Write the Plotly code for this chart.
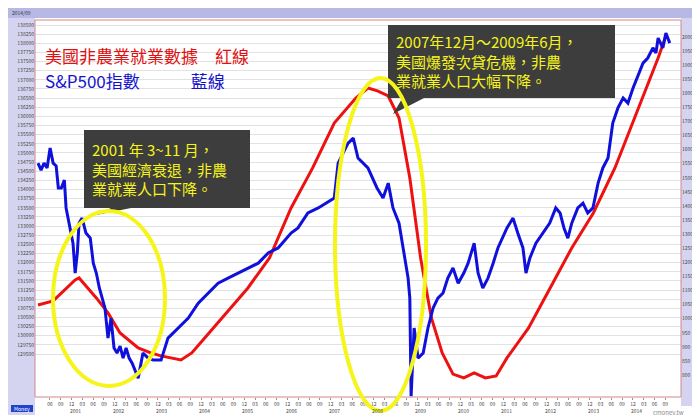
import plotly.graph_objects as go

# US non-farm payrolls (thousands), red line, left axis
nfp_t = [2000.14, 2000.49, 2001.0, 2001.09, 2001.49, 2001.76, 2002.04, 2002.46, 2002.75, 2002.99,
         2003.45, 2003.70, 2004.0, 2004.5, 2005.0, 2005.5, 2006.0, 2006.5, 2007.0, 2007.5,
         2007.78, 2008.0, 2008.25, 2008.5, 2008.75, 2009.0, 2009.25, 2009.5, 2009.75, 2010.0,
         2010.24, 2010.5, 2010.75, 2011.0, 2011.5, 2012.0, 2012.5, 2013.0, 2013.5, 2014.0,
         2014.5, 2014.68]
nfp_v = [130842, 130952, 131526, 131581, 131034, 130624, 130077, 129667, 129530, 129448,
         129339, 129530, 129940, 130624, 131307, 132128, 133496, 134590, 135820, 136504,
         136777, 136700, 136558, 135957, 134316, 132128, 130487, 129530, 128950, 128846,
         128983, 128846, 128900, 129393, 130213, 131307, 132401, 133359, 134590, 136093,
         137598, 138199]

# S&P 500 index, blue line, right axis
spx_t = [2000.14, 2000.21, 2000.28, 2000.35, 2000.42, 2000.49, 2000.56, 2000.61, 2000.68, 2000.75,
         2000.79, 2000.84, 2000.91, 2000.95, 2001.0, 2001.05, 2001.09, 2001.16, 2001.25, 2001.35,
         2001.42, 2001.49, 2001.56, 2001.63, 2001.69, 2001.76, 2001.83, 2001.90, 2001.97, 2002.04,
         2002.11, 2002.18, 2002.25, 2002.32, 2002.46, 2002.57, 2002.69, 2002.81, 2002.99, 2003.15,
         2003.38, 2003.62, 2003.85, 2004.08, 2004.31, 2004.54, 2004.77, 2005.0, 2005.24, 2005.47,
         2005.70, 2006.0, 2006.16, 2006.39, 2006.63, 2007.0, 2007.09, 2007.32, 2007.44, 2007.55,
         2007.67, 2007.78, 2007.99, 2008.13, 2008.25, 2008.36, 2008.50, 2008.59, 2008.71, 2008.75,
         2008.78, 2008.85, 2008.94, 2009.06, 2009.17, 2009.29, 2009.40, 2009.52, 2009.63, 2009.75,
         2009.87, 2010.0, 2010.10, 2010.24, 2010.33, 2010.44, 2010.56, 2010.68, 2010.79, 2011.0,
         2011.14, 2011.25, 2011.37, 2011.44, 2011.53, 2011.67, 2011.83, 2011.99, 2012.13, 2012.23,
         2012.32, 2012.41, 2012.50, 2012.64, 2012.76, 2012.87, 2012.99, 2013.11, 2013.22, 2013.34,
         2013.45, 2013.57, 2013.69, 2013.80, 2013.92, 2014.01, 2014.15, 2014.26, 2014.38, 2014.45,
         2014.50, 2014.61, 2014.68, 2014.77]
spx_v = [1552, 1527, 1552, 1535, 1606, 1552, 1542, 1464, 1464, 1492,
         1393, 1357, 1304, 1268, 1162, 1233, 1339, 1357, 1304, 1286,
         1197, 1162, 1109, 1073, 1038, 931, 1002, 896, 878, 903,
         860, 896, 860, 842, 789, 878, 860, 853, 853, 931,
         967, 1002, 1055, 1091, 1126, 1144, 1162, 1180, 1197, 1233,
         1251, 1304, 1322, 1375, 1393, 1428, 1552, 1623, 1641, 1570,
         1552, 1535, 1464, 1428, 1481, 1393, 1339, 1251, 1144, 1073,
         725, 967, 860, 878, 967, 1038, 1073, 1091, 1144, 1180,
         1126, 1162, 1197, 1268, 1162, 1109, 1144, 1197, 1251, 1322,
         1357, 1304, 1251, 1162, 1215, 1268, 1304, 1339, 1393, 1375,
         1322, 1286, 1339, 1393, 1410, 1375, 1393, 1481, 1535, 1570,
         1694, 1748, 1783, 1765, 1819, 1854, 1907, 1925, 1961, 1943,
         1996, 1961, 2014, 1978]

years = list(range(2001, 2015))
left_ticks = list(range(129500, 138501, 250))
right_ticks = list(range(800, 2001, 50))

tickvals, ticktext = [], []
for y in range(2000, 2015):
    for m in (3, 6, 9, 12):
        t = y + (m - 1) / 12
        if 2000.3 < t < 2014.8:
            tickvals.append(t)
            ticktext.append(f"{m:02d}")

fig = go.Figure()
fig.add_trace(go.Scatter(x=nfp_t, y=nfp_v, mode="lines", line=dict(color="#ee1111", width=3), yaxis="y"))
fig.add_trace(go.Scatter(x=spx_t, y=spx_v, mode="lines", line=dict(color="#1010dd", width=3), yaxis="y2"))

W, L, R, T, B = 646, 27, 27, 12, 26
H = 415 - T - B


def px(x):
    return (x - L) / W


def py(y):
    return (415 - B - y) / H


shapes = [
    dict(type="rect", xref="paper", yref="paper", x0=px(0), x1=px(27), y0=py(415), y1=py(0),
         fillcolor="#d4d4f0", line_width=0, layer="below"),
    dict(type="rect", xref="paper", yref="paper", x0=px(673), x1=px(700), y0=py(398), y1=py(0),
         fillcolor="#d4d4f0", line_width=0, layer="below"),
    dict(type="rect", xref="paper", yref="paper", x0=px(0), x1=px(700), y0=py(10), y1=py(0),
         fillcolor="#b8b8e6", line_width=0, layer="below"),
    dict(type="rect", xref="paper", yref="paper", x0=0, x1=1, y0=0, y1=1,
         line=dict(color="#d08888", width=1)),
    # callout boxes
    dict(type="rect", xref="paper", yref="paper", x0=px(76), x1=px(242), y0=py(200), y1=py(122),
         fillcolor="#3d3d3d", line_width=0),
    dict(type="path", xref="paper", yref="paper",
         path=f"M {px(105)} {py(199)} L {px(88)} {py(207)} L {px(128)} {py(199)} Z",
         fillcolor="#3d3d3d", line_width=0),
    dict(type="rect", xref="paper", yref="paper", x0=px(380), x1=px(607), y0=py(90), y1=py(17),
         fillcolor="#3d3d3d", line_width=0),
    dict(type="path", xref="paper", yref="paper",
         path=f"M {px(395)} {py(89)} L {px(385)} {py(106)} L {px(418)} {py(89)} Z",
         fillcolor="#3d3d3d", line_width=0),
    # ellipses
    dict(type="circle", xref="paper", yref="paper", x0=px(45), x1=px(157), y0=py(378), y1=py(203),
         line=dict(color="#f5f51a", width=4)),
    dict(type="circle", xref="paper", yref="paper", x0=px(327), x1=px(418), y0=py(403), y1=py(70),
         line=dict(color="#f5f51a", width=4)),
    dict(type="rect", xref="paper", yref="paper", x0=px(3), x1=px(25), y0=py(404), y1=py(397),
         fillcolor="#2244cc", line_width=0),
]

ann = [
    dict(x=px(35), y=py(48), text="美國非農業就業數據　紅線", font=dict(color="#e01010", size=17)),
    dict(x=px(35), y=py(72), text="S&P500指數　　　藍線", font=dict(color="#1414cc", size=17)),
    dict(x=px(82), y=py(161), text="2001 年 3~11 月，<br>美國經濟衰退，非農<br>業就業人口下降。",
         font=dict(color="#f5f51a", size=15)),
    dict(x=px(386), y=py(53), text="2007年12月～2009年6月，<br>美國爆發次貸危機，非農<br>業就業人口大幅下降。",
         font=dict(color="#f5f51a", size=15)),
    dict(x=px(2), y=py(5), text="2014/09", font=dict(color="#333", size=5)),
    dict(x=px(4), y=py(400.5), text="Money", font=dict(color="white", size=5)),
    dict(x=px(660), y=py(404), text="cmoney.tw", font=dict(color="#888", size=6)),
]
for a in ann:
    a.update(xref="paper", yref="paper", xanchor="left", yanchor="middle", showarrow=False, align="left")
ann[-1].update(xanchor="center")
for y in years:
    ann.append(dict(x=y, xref="x", y=py(402), yref="paper", text=str(y), showarrow=False,
                    font=dict(color="#444", size=5), xanchor="center", yanchor="middle"))

fig.update_layout(
    width=700, height=415, margin=dict(l=L, r=R, t=T, b=B, autoexpand=False),
    paper_bgcolor="white", plot_bgcolor="white", showlegend=False,
    font=dict(family="Noto Sans CJK TC"),
    xaxis=dict(range=[2000.07, 2015.03], tickvals=tickvals, ticktext=ticktext, showgrid=False,
               automargin=False, ticks="outside", ticklen=2, tickcolor="#c08080",
               tickfont=dict(size=5, color="#444")),
    yaxis=dict(range=[128324, 138637], tickvals=left_ticks, ticktext=[str(v) for v in left_ticks],
               ticks="", gridcolor="#e2e2e2", automargin=False,
               tickfont=dict(size=5, color="#444"), zeroline=False),
    yaxis2=dict(range=[722, 2060], tickvals=right_ticks, overlaying="y", side="right", showgrid=False,
                automargin=False, tickfont=dict(size=5, color="#444"), zeroline=False),
    shapes=shapes, annotations=ann,
)
fig.write_html("out.html")
